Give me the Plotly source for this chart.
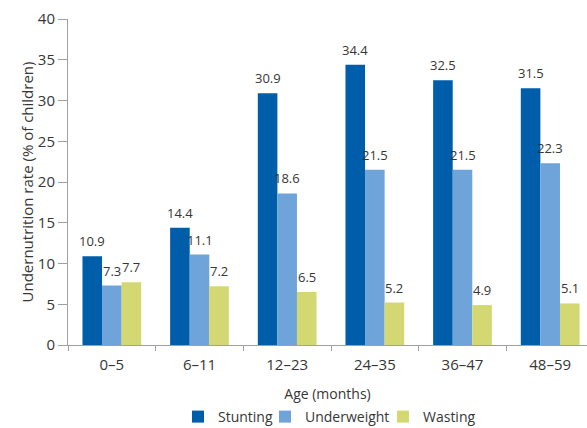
import plotly.graph_objects as go

ages = ["0–5", "6–11", "12–23", "24–35", "36–47", "48–59"]
stunting = [10.9, 14.4, 30.9, 34.4, 32.5, 31.5]
underweight = [7.3, 11.1, 18.6, 21.5, 21.5, 22.3]
wasting = [7.7, 7.2, 6.5, 5.2, 4.9, 5.1]

series = [
    ("Stunting", stunting, "#005DAA"),
    ("Underweight", underweight, "#6EA4D9"),
    ("Wasting", wasting, "#D4D873"),
]

FONT = "'Open Sans', sans-serif"
TXT = "#363636"
AX = "#A0A0A0"

W, H = 587, 428
ML, MT, MB, MR = 68, 19, 83, 0
plot_w = W - ML - MR
plot_h = H - MT - MB
x_hi = 5.42
cat_px = plot_w / (x_hi + 0.5)
bargap = 0.33
bar_px = cat_px * (1 - bargap) / 3

# legend item left edges (pixels) for each series
legend_px = [178, 265, 383]
legend_names = ["legend", "legend2", "legend3"]

fig = go.Figure()
for (name, vals, col), lg in zip(series, legend_names):
    fig.add_trace(go.Bar(
        name=name, x=ages, y=vals, marker=dict(color=col, line=dict(width=0)),
        legend=lg,
    ))

annotations = []
for i, (name, vals, col) in enumerate(series):
    for a, v in zip(ages, vals):
        annotations.append(dict(
            x=a, y=v, xref="x", yref="y", text=f"{v}", showarrow=False,
            xshift=(i - 1) * bar_px, yshift=15, yanchor="middle",
            font=dict(family=FONT, size=13, color=TXT),
        ))

legend_cfg = {}
for lg, px in zip(legend_names, legend_px):
    legend_cfg[lg] = dict(
        orientation="h", x=(px - ML) / plot_w, xanchor="left",
        y=-(417 - (MT + plot_h)) / plot_h, yanchor="middle",
        font=dict(family=FONT, size=14, color=TXT),
        bgcolor="rgba(0,0,0,0)",
    )

fig.update_layout(
    width=W, height=H,
    margin=dict(l=ML, r=MR, t=MT, b=MB, pad=0, autoexpand=False),
    paper_bgcolor="white", plot_bgcolor="white",
    barmode="group", bargap=bargap, bargroupgap=0,
    font=dict(family=FONT, size=14, color=TXT),
    showlegend=True,
    annotations=annotations,
    xaxis=dict(
        range=[-0.5, x_hi], showline=True, linecolor=AX, linewidth=1,
        ticks="outside", tickson="boundaries", ticklen=5, tickcolor=AX,
        ticklabelstandoff=6, automargin=False,
        showgrid=False, zeroline=False,
        tickfont=dict(family=FONT, size=15, color=TXT),
        title=dict(text="Age (months)", font=dict(family=FONT, size=14, color=TXT), standoff=16),
    ),
    yaxis=dict(
        range=[0, 40], dtick=5, showline=True, linecolor=AX, linewidth=1,
        ticks="outside", ticklen=9, tickcolor=AX, showgrid=False, zeroline=False,
        automargin=False,
        tickfont=dict(family=FONT, size=15, color=TXT),
        title=dict(text="Undernutrition rate (% of children)",
                   font=dict(family=FONT, size=15, color=TXT), standoff=0),
    ),
    **legend_cfg,
)

fig.write_html("out.html")
